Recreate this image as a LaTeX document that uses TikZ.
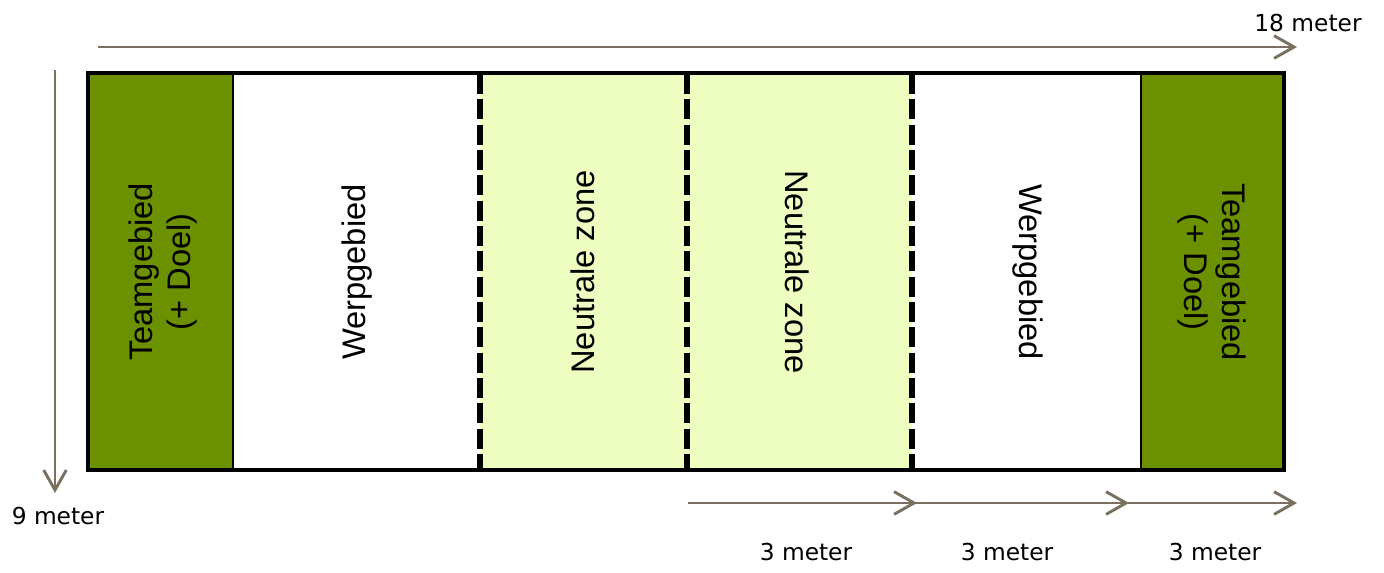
\documentclass[tikz,border=0pt]{standalone}
\usepackage{fontspec}
\setmainfont{Liberation Sans}
\newfontfamily\labelfont{DejaVu Sans}
\usetikzlibrary{arrows.meta}
\definecolor{darkzone}{RGB}{107,145,0}
\definecolor{lightzone}{RGB}{238,253,192}
\definecolor{arrowgray}{RGB}{122,112,98}
\begin{document}
\begin{tikzpicture}[x=0.75pt,y=-0.75pt,
  zonetext/.style={font=\fontsize{24.5}{28}\selectfont,align=center,inner sep=0pt},
  measure/.style={font=\labelfont\fontsize{17.5}{20}\selectfont,inner sep=0pt},
  dimarrow/.style={draw=arrowgray,line width=2.2pt,-{Straight Barb[length=15pt,width=17pt,line width=2.2pt]}},
  thinline/.style={line width=1.5pt},
  dashline/.style={line width=3.8pt,dash pattern=on 15pt off 4pt}]
\useasboundingbox (0,0) rectangle (1384,572);
% fills
\fill[darkzone] (88,73) rectangle (233,470);
\fill[darkzone] (1141,73) rectangle (1284,470);
\fill[lightzone] (480,73) rectangle (912,470);
% inner solid lines
\draw[thinline] (233,73) -- (233,470);
\draw[thinline] (1141,73) -- (1141,470);
% outer border
\draw[line width=2.4pt] (88,73) rectangle (1284,470);
% dashed lines
\draw[dashline] (480,74) -- (480,470);
\draw[dashline] (687,74) -- (687,470);
\draw[dashline] (912,74) -- (912,470);
% zone texts
\node[zonetext,rotate=90] (tl) at (163,272) {Teamgebied\\(+ Doel)};
\node[zonetext,rotate=90] (wl) at (357,272) {Werpgebied};
\node[zonetext,rotate=90] (nl) at (583,272) {Neutrale zone};
\node[zonetext,rotate=-90] (nr) at (797,272) {Neutrale zone};
\node[zonetext,rotate=-90] (wr) at (1028,272) {Werpgebied};
\node[zonetext,rotate=-90] (tr) at (1212,272) {Teamgebied\\(+ Doel)};
% dimension coordinates
\coordinate (topA) at (98,47);
\coordinate (topB) at (1297,47);
\coordinate (leftA) at (55,70);
\coordinate (leftB) at (55,493);
\coordinate (b1A) at (688,503);
\coordinate (b1B) at (917,503);
\coordinate (b2A) at (880,503);
\coordinate (b2B) at (1129,503);
\coordinate (b3A) at (1128,503);
\coordinate (b3B) at (1297,503);
\draw[dimarrow] (topA) -- (topB);
\draw[dimarrow] (leftA) -- (leftB);
\draw[dimarrow] (b1A) -- (b1B);
\draw[dimarrow] (b2A) -- (b2B);
\draw[dimarrow] (b3A) -- (b3B);
% labels
\node[measure] (l18) at (1308,23) {18 meter};
\node[measure] (l9) at (58,516) {9 meter};
\node[measure] (l3a) at (806,552) {3 meter};
\node[measure] (l3b) at (1007,552) {3 meter};
\node[measure] (l3c) at (1215,552) {3 meter};
\end{tikzpicture}
\end{document}
